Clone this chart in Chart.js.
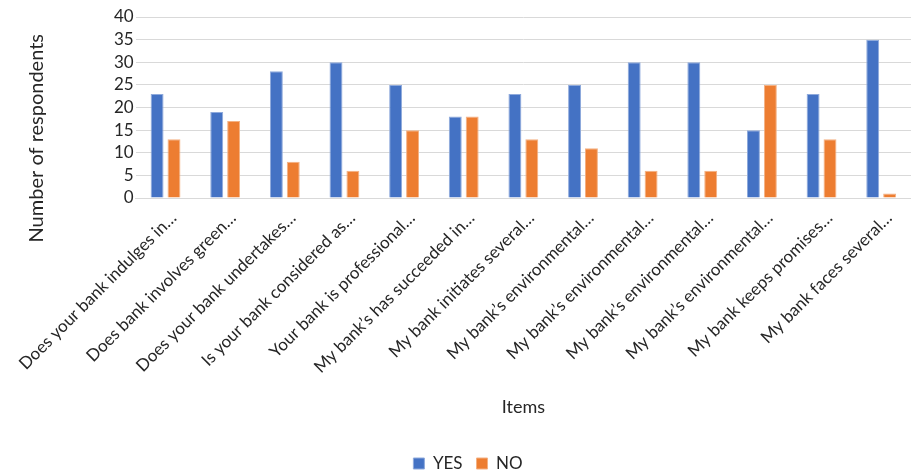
<!DOCTYPE html>
<html>
<head>
<meta charset="utf-8">
<script src="https://cdn.jsdelivr.net/npm/chart.js@4"></script>
<style>
  html, body { margin: 0; padding: 0; background: #fff; }
  .chart-container { width: 911px; height: 472px; position: relative; }
</style>
</head>
<body>
<div class="chart-container"><canvas id="chart"></canvas></div>
<script>
const items = [
  'Does your bank indulges in…',
  'Does bank involves green…',
  'Does your bank undertakes…',
  'Is your bank considered as…',
  'Your bank is professional…',
  'My bank’s has succeeded in…',
  'My bank initiates several…',
  'My bank’s environmental…',
  'My bank’s environmental…',
  'My bank’s environmental…',
  'My bank’s environmental…',
  'My bank keeps promises…',
  'My bank faces several…'
];
const yesValues = [23, 19, 28, 30, 25, 18, 23, 25, 30, 30, 15, 23, 35];
const noValues = [13, 17, 8, 6, 15, 18, 13, 11, 6, 6, 25, 13, 1];

const fontFamily = 'Lato, "Open Sans", sans-serif';
const textColor = '#262626';

new Chart(document.getElementById('chart'), {
  type: 'bar',
  data: {
    labels: items,
    datasets: [
      {
        label: 'YES',
        data: yesValues,
        backgroundColor: '#4472C4',
        borderColor: '#8faadc',
        borderWidth: 1,
        categoryPercentage: 0.567,
        barPercentage: 0.765
      },
      {
        label: 'NO',
        data: noValues,
        backgroundColor: '#ED7D31',
        borderColor: '#f4b183',
        borderWidth: 1,
        categoryPercentage: 0.567,
        barPercentage: 0.765
      }
    ]
  },
  options: {
    responsive: true,
    maintainAspectRatio: false,
    animation: false,
    layout: { padding: { top: 17, left: 25, right: 0, bottom: -10 } },
    plugins: {
      legend: {
        position: 'bottom',
        labels: {
          boxWidth: 11,
          boxHeight: 11,
          padding: 14,
          color: textColor,
          font: { family: fontFamily, size: 17 }
        }
      },
      tooltip: { enabled: false }
    },
    scales: {
      x: {
        grid: { display: false },
        border: { color: '#d9d9d9' },
        // let long rotated labels hang left and give the axis more room than the default half-height cap
        afterFit: (scale) => {
          scale.paddingLeft = 0;
          scale.height = 243;
        },
        ticks: {
          maxRotation: 45,
          minRotation: 45,
          autoSkip: false,
          labelOffset: 8,
          color: textColor,
          padding: 2,
          font: { family: fontFamily, size: 17 }
        },
        title: {
          display: true,
          text: 'Items',
          color: textColor,
          padding: { top: 0, bottom: 23 },
          font: { family: fontFamily, size: 18 }
        }
      },
      y: {
        min: 0,
        max: 40,
        grid: { color: '#d9d9d9', drawTicks: false },
        border: { display: false },
        ticks: {
          stepSize: 5,
          autoSkip: false,
          padding: 2,
          color: textColor,
          font: { family: fontFamily, size: 17 }
        },
        title: {
          display: true,
          // trailing spaces push the centred title down a bit, as in the original
          text: 'Number of respondents            ',
          color: textColor,
          padding: { top: 0, bottom: 63 },
          font: { family: fontFamily, size: 20 }
        }
      }
    }
  }
});
</script>
</body>
</html>
